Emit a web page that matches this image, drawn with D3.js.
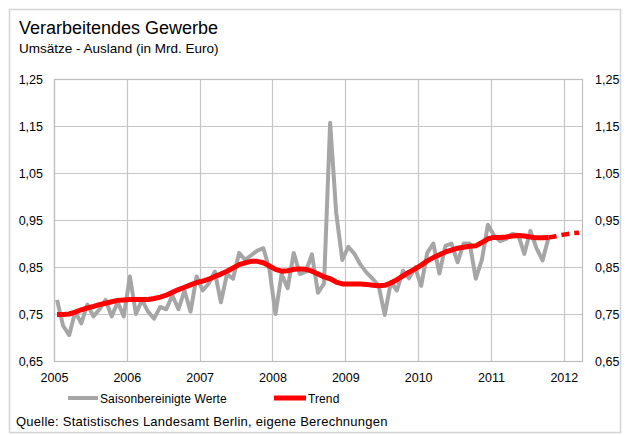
<!DOCTYPE html>
<html>
<head>
<meta charset="utf-8">
<script src="https://cdn.jsdelivr.net/npm/d3@7"></script>
<style>
  body { margin: 0; background: #fff; }
  text { font-family: "Liberation Sans", Arial, sans-serif; fill: #000; }
</style>
</head>
<body>
<div id="chart"></div>
<script>
const width = 629
const height = 435
const margin = {top: 79, bottom: 74, left: 54, right: 47}

// Monatswerte ab Januar 2005
const startYear = 2005
const saisonWerte = [
  0.78, 0.725, 0.705, 0.755, 0.73, 0.77, 0.745, 0.76, 0.78, 0.745, 0.775, 0.745,
  0.83, 0.75, 0.78, 0.755, 0.74, 0.765, 0.76, 0.79, 0.76, 0.80, 0.755, 0.83,
  0.80, 0.815, 0.84, 0.775, 0.835, 0.825, 0.88, 0.865, 0.875, 0.885, 0.89, 0.845,
  0.75, 0.835, 0.805, 0.88, 0.835, 0.84, 0.877, 0.795, 0.815, 1.157, 0.965, 0.865,
  0.893, 0.878, 0.855, 0.838, 0.825, 0.81, 0.748, 0.818, 0.80, 0.842, 0.826, 0.849,
  0.81, 0.88, 0.90, 0.836, 0.895, 0.90, 0.86, 0.90, 0.90, 0.825, 0.865, 0.94,
  0.917, 0.905, 0.91, 0.92, 0.918, 0.878, 0.927, 0.89, 0.864, 0.913
]
const trendWerte = [
  0.749, 0.749, 0.750, 0.754, 0.759, 0.763, 0.766, 0.770, 0.773, 0.776, 0.779, 0.780,
  0.781, 0.781, 0.781, 0.781, 0.783, 0.786, 0.790, 0.796, 0.802, 0.807, 0.812, 0.817,
  0.820, 0.824, 0.830, 0.835, 0.841, 0.848, 0.855, 0.859, 0.862, 0.862, 0.859, 0.852,
  0.845, 0.841, 0.842, 0.845, 0.846, 0.845, 0.841, 0.835, 0.829, 0.825, 0.818, 0.814,
  0.814, 0.814, 0.814, 0.813, 0.811, 0.810, 0.811, 0.816, 0.823, 0.831, 0.839, 0.846,
  0.854, 0.863, 0.870, 0.876, 0.882, 0.886, 0.890, 0.892, 0.894, 0.895, 0.902, 0.910,
  0.913, 0.913, 0.914, 0.916, 0.917, 0.916, 0.914, 0.912, 0.912, 0.913
]
// Prognose des Trends (gestrichelt), ab dem letzten Monat mit Daten
const trendPrognose = [0.913, 0.915, 0.918, 0.920, 0.922, 0.923]

const jahre = [2005, 2006, 2007, 2008, 2009, 2010, 2011, 2012]
const yTicks = [0.65, 0.75, 0.85, 0.95, 1.05, 1.15, 1.25]

const svg = d3.select("#chart").append("svg").attr("width", width).attr("height", height)

// Rahmen
svg.append("rect").attr("x", 9.5).attr("y", 9.5).attr("width", 611).attr("height", 423)
  .attr("fill", "none").attr("stroke", "#d4d4d4").attr("stroke-width", 1.5)

svg.append("text").attr("x", 19).attr("y", 34).attr("font-size", 18)
  .text("Verarbeitendes Gewerbe")
svg.append("text").attr("x", 19).attr("y", 53).attr("font-size", 13.5)
  .text("Umsätze - Ausland (in Mrd. Euro)")

const x = d3.scaleLinear().domain([2005, 2012.25]).range([margin.left, width - margin.right])
const y = d3.scaleLinear().domain([0.65, 1.25]).range([height - margin.bottom, margin.top])
const monat = i => startYear + (i + 0.5) / 12

const fmt = d3.formatLocale({decimal: ",", thousands: ".", grouping: [3], currency: ["", "€"]}).format(".2f")

// Gitter
const grid = svg.append("g")
grid.selectAll(".h").data(yTicks).join("line")
  .attr("x1", x.range()[0]).attr("x2", x.range()[1])
  .attr("y1", d => y(d) + 0.5).attr("y2", d => y(d) + 0.5)
  .attr("stroke", "#c6c6c6").attr("stroke-width", 1.2)
grid.selectAll(".v").data(jahre).join("line")
  .attr("x1", d => Math.round(x(d)) + 0.5).attr("x2", d => Math.round(x(d)) + 0.5)
  .attr("y1", y.range()[1]).attr("y2", y.range()[0])
  .attr("stroke", "#c6c6c6").attr("stroke-width", 1.2)
svg.append("rect")
  .attr("x", x.range()[0] + 0.5).attr("y", y.range()[1] + 0.5)
  .attr("width", x.range()[1] - x.range()[0]).attr("height", y.range()[0] - y.range()[1])
  .attr("fill", "none").attr("stroke", "#bdbdbd").attr("stroke-width", 1.2)

// Achsenbeschriftungen
const yAxisLeft = d3.axisLeft(y).tickValues(yTicks).tickFormat(fmt).tickSize(0).tickPadding(11)
const yAxisRight = d3.axisRight(y).tickValues(yTicks).tickFormat(fmt).tickSize(0).tickPadding(13)
const xAxis = d3.axisBottom(x).tickValues(jahre).tickFormat(d3.format("d")).tickSize(0).tickPadding(12)

const axisStyle = g => {
  g.select(".domain").remove()
  g.selectAll("text").attr("font-size", 12.5).attr("font-family", '"Liberation Sans", Arial, sans-serif').attr("fill", "#000")
}
svg.append("g").attr("transform", `translate(${x.range()[0]},0)`).call(yAxisLeft).call(axisStyle)
svg.append("g").attr("transform", `translate(${x.range()[1]},0)`).call(yAxisRight).call(axisStyle)
svg.append("g").attr("transform", `translate(0,${y.range()[0]})`).call(xAxis).call(axisStyle)

// Linien
const line = d3.line().x(d => x(d[0])).y(d => y(d[1]))
svg.append("path").datum(saisonWerte.map((v, i) => [monat(i), v]))
  .attr("d", line).attr("fill", "none").attr("stroke", "#a6a6a6")
  .attr("stroke-width", 4).attr("stroke-linejoin", "round")
svg.append("path").datum(trendWerte.map((v, i) => [monat(i), v]))
  .attr("d", line).attr("fill", "none").attr("stroke", "#ff0000")
  .attr("stroke-width", 5).attr("stroke-linejoin", "round")
const offset = trendWerte.length - 1
svg.append("path").datum(trendPrognose.map((v, i) => [monat(offset + i), v]))
  .attr("d", line).attr("fill", "none").attr("stroke", "#ff0000")
  .attr("stroke-width", 4.5).attr("stroke-dasharray", "8,5")

// Legende
const legend = svg.append("g").attr("transform", "translate(0,398)")
legend.append("line").attr("x1", 68).attr("x2", 98).attr("stroke", "#a6a6a6").attr("stroke-width", 4)
legend.append("text").attr("x", 100).attr("y", 4.5).attr("font-size", 12).attr("letter-spacing", 0.1)
  .text("Saisonbereinigte Werte")
legend.append("line").attr("x1", 274).attr("x2", 306).attr("stroke", "#ff0000").attr("stroke-width", 5)
legend.append("text").attr("x", 308).attr("y", 4.5).attr("font-size", 12).attr("letter-spacing", 0.1)
  .text("Trend")

svg.append("text").attr("x", 16).attr("y", 426).attr("font-size", 13).attr("letter-spacing", 0.25)
  .text("Quelle: Statistisches Landesamt Berlin, eigene Berechnungen")
</script>
</body>
</html>
